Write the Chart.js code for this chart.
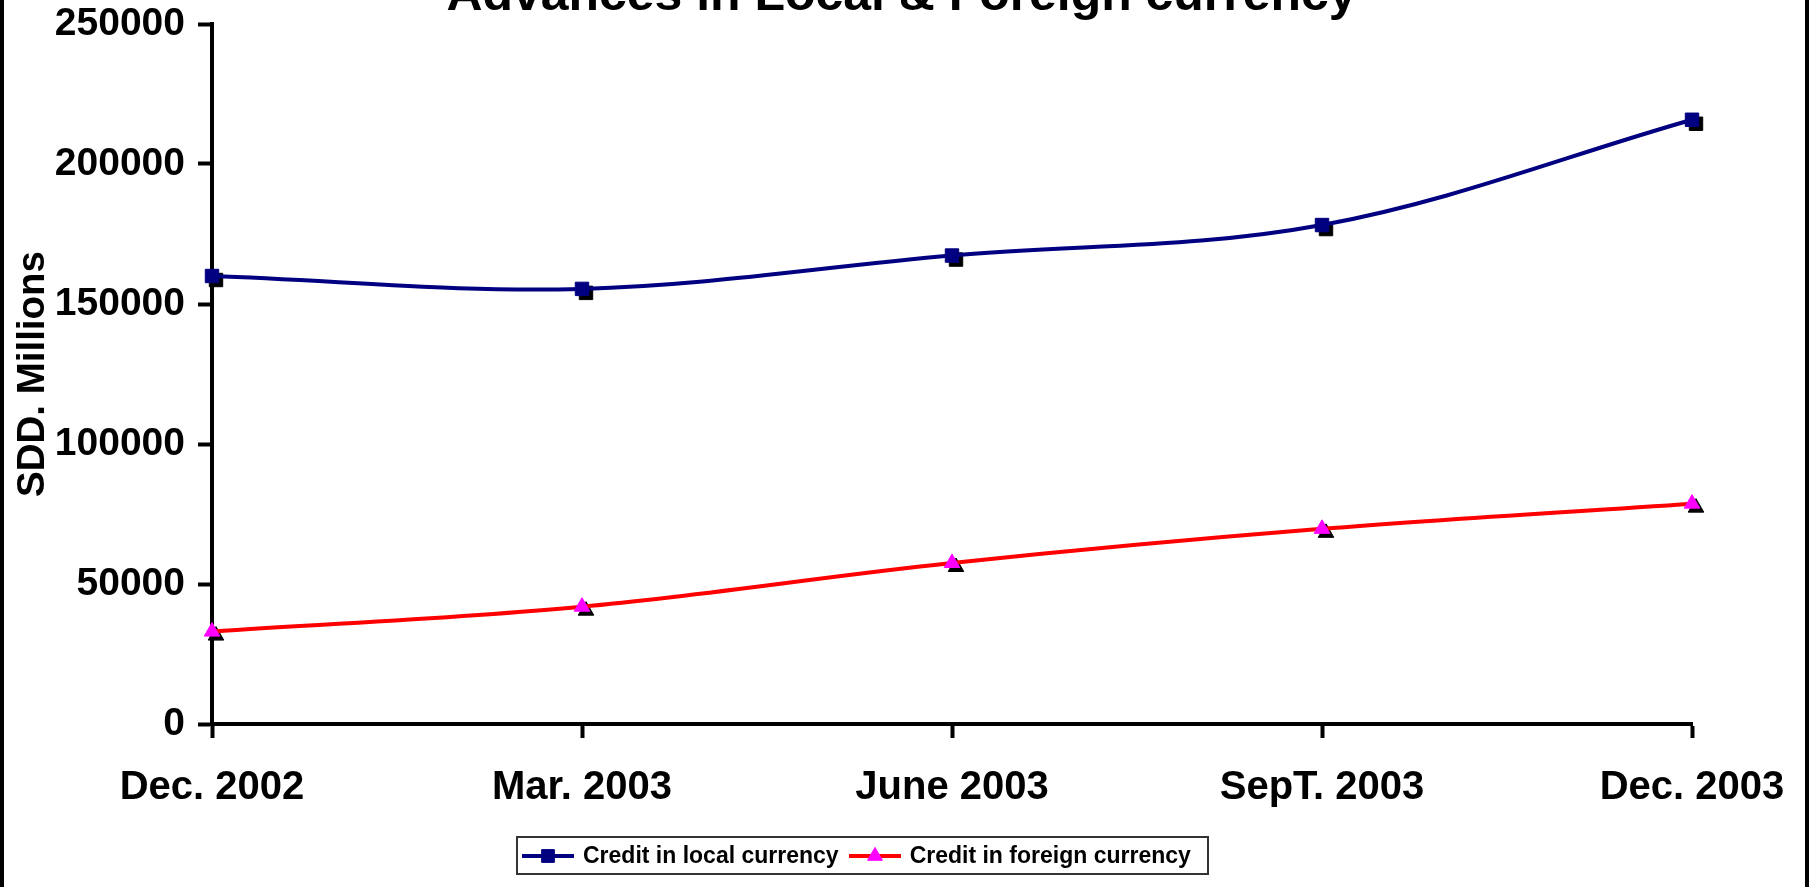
<!DOCTYPE html>
<html>
<head>
<meta charset="utf-8">
<script src="https://cdn.jsdelivr.net/npm/chart.js@4.4.1/dist/chart.umd.min.js"></script>
<style>
    html, body { margin: 0; padding: 0; background: #fff; overflow: hidden; }
    #wrap { position: relative; width: 1811px; height: 887px; font-family: "Liberation Sans", Arial, sans-serif; }
    #wrap canvas#chart { position: absolute; left: 0; top: 0; }
    #frame { position: absolute; left: 0; top: 0; width: 1809px; height: 887px; box-sizing: border-box;
             border-left: 4px solid #000; border-right: 4px solid #000; pointer-events: none; }
    #title { position: absolute; left: 0; top: -30px; width: 1811px; text-align: center; font-weight: bold;
             font-size: 48px; line-height: 48px; white-space: nowrap; transform: translateX(-4px) scaleX(1.04); }
    #legend { position: absolute; left: 516px; top: 836px; width: 693px; height: 39px; box-sizing: border-box;
              border: 2px solid #333; display: flex; align-items: center; padding-left: 4px;
              font-weight: bold; font-size: 23px; white-space: nowrap; }
    #legend .item { display: flex; align-items: center; margin-right: 10px; }
    #legend canvas { margin-right: 9px; }
</style>
</head>
<body>
<div id="wrap">
    <canvas id="chart" width="1811" height="887"></canvas>
    <div id="title">Advances in Local &amp; Foreign currency</div>
    <div id="legend"></div>
    <div id="frame"></div>
</div>
<script>
const categories = ['Dec. 2002', 'Mar. 2003', 'June 2003', 'SepT. 2003', 'Dec. 2003'];
const localCredit = [160000, 155400, 167300, 178200, 215800];
const foreignCredit = [33000, 41900, 57500, 69700, 78700];
const yTicks = [0, 50000, 100000, 150000, 200000, 250000];

// black drop shadow under each marker (offset down-right)
const markerShadow = {
    id: 'markerShadow',
    beforeDatasetsDraw(chart) {
        const ctx = chart.ctx;
        chart.data.datasets.forEach((ds, i) => {
            chart.getDatasetMeta(i).data.forEach(pt => {
                ctx.save();
                ctx.fillStyle = '#000';
                ctx.strokeStyle = '#000';
                ctx.lineWidth = 1;
                Chart.helpers.drawPoint(ctx, {
                    pointStyle: ds.pointStyle, radius: ds.pointRadius, rotation: 0, borderWidth: 1
                }, pt.x + 4, pt.y + 4);
                ctx.restore();
            });
        });
    }
};

const chart = new Chart(document.getElementById('chart'), {
    type: 'line',
    data: {
        labels: categories,
        datasets: [{
            label: 'Credit in local currency',
            data: localCredit,
            borderColor: '#000080',
            borderWidth: 4,
            tension: 0.35,
            pointStyle: 'rect',
            pointRadius: 9.5,
            pointBackgroundColor: '#000080',
            pointBorderColor: '#000080',
            pointBorderWidth: 1
        }, {
            label: 'Credit in foreign currency',
            data: foreignCredit,
            borderColor: '#ff0000',
            borderWidth: 4,
            tension: 0.35,
            pointStyle: 'triangle',
            pointRadius: 9,
            pointBackgroundColor: '#ff00ff',
            pointBorderColor: '#ff00ff',
            pointBorderWidth: 1
        }]
    },
    options: {
        responsive: false,
        animation: false,
        layout: { padding: { left: 4, right: 119, top: 24, bottom: 0 } },
        plugins: {
            legend: { display: false },
            title: { display: false },
            tooltip: { enabled: false }
        },
        scales: {
            x: {
                offset: false,
                grid: { drawOnChartArea: false, drawTicks: true, tickLength: 14, tickWidth: 4, tickColor: '#000' },
                border: { display: true, color: '#000', width: 4 },
                ticks: {
                    color: '#000', padding: 26, maxRotation: 0, autoSkip: false,
                    font: { family: '"Liberation Sans", Arial, sans-serif', size: 40, weight: 'bold' }
                },
                afterFit: s => { s.height = 163; }
            },
            y: {
                min: 0,
                max: 250000,
                afterBuildTicks: s => { s.ticks = yTicks.map(v => ({ value: v })); },
                grid: { drawOnChartArea: false, drawTicks: true, tickLength: 14, tickWidth: 4, tickColor: '#000' },
                border: { display: true, color: '#000', width: 4 },
                ticks: {
                    color: '#000', padding: 13,
                    font: { family: '"Liberation Sans", Arial, sans-serif', size: 39, weight: 'bold' },
                    callback: v => String(v)
                },
                title: {
                    display: true,
                    text: 'SDD. Millions',
                    color: '#000',
                    padding: { top: 6, bottom: 0 },
                    font: { family: '"Liberation Sans", Arial, sans-serif', size: 38.5, weight: 'bold' }
                },
                afterFit: s => { s.width = 208; s.paddingTop = 0; s.paddingBottom = 0; }
            }
        }
    },
    plugins: [markerShadow]
});

// legend built from the chart's datasets
const legendEl = document.getElementById('legend');
chart.data.datasets.forEach(ds => {
    const item = document.createElement('div');
    item.className = 'item';
    const icon = document.createElement('canvas');
    icon.width = 52;
    icon.height = 24;
    const c = icon.getContext('2d');
    c.strokeStyle = ds.borderColor;
    c.lineWidth = 4;
    c.beginPath();
    c.moveTo(0, 12);
    c.lineTo(52, 12);
    c.stroke();
    c.fillStyle = ds.pointBackgroundColor;
    c.strokeStyle = ds.pointBorderColor;
    c.lineWidth = 1;
    Chart.helpers.drawPoint(c, { pointStyle: ds.pointStyle, radius: ds.pointRadius * 0.95, rotation: 0, borderWidth: 1 }, 26, 12);
    const txt = document.createElement('span');
    txt.textContent = ds.label;
    item.appendChild(icon);
    item.appendChild(txt);
    legendEl.appendChild(item);
});
</script>
</body>
</html>
